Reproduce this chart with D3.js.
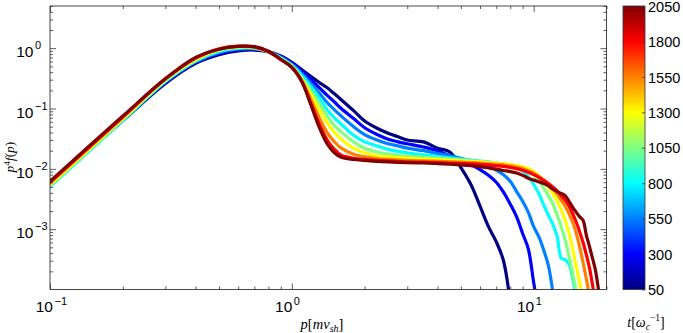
<!DOCTYPE html>
<html><head><meta charset="utf-8">
<script src="https://cdn.jsdelivr.net/npm/d3@7"></script>
<style>
body{margin:0;background:#fff}
svg{display:block}
.num{font-family:"Liberation Sans",Arial,Helvetica,sans-serif;fill:#000}
.tex{font-family:"Liberation Serif","DejaVu Serif",serif;fill:#000}
</style>
</head><body>
<svg id="c" width="683" height="333"></svg>
<script>
// ---------------- data ----------------
const times = [50, 300, 550, 800, 1050, 1300, 1550, 1800, 2050];
const pGrid = [0.1,0.2,0.3,0.4,0.5,0.6,0.7,0.8,0.9,1.0,
  1.1,1.2,1.3,1.4,1.5,1.6,1.8,2.0,2.25,2.5,
  2.75,3.0,3.5,4.0,4.5,5.0,5.5,6.0,6.5,7.0,
  7.5,8.0,8.5,9.0,9.5,10,10.5,11,11.5,12,
  12.5,13,13.5,14,14.5,15,15.5,16,16.5,17,
  17.5,18,18.5,19];
const f_t50 = [5.4e-3,0.063,0.26,0.56,0.78,0.90,0.93,0.87,0.74,0.58,
  0.44,0.34,0.27,0.22,0.175,0.14,0.092,0.062,0.047,0.039,
  0.034,0.030,0.028,0.022,0.019,0.0105,0.0055,0.0024,0.0011,6.2e-4,
  3.0e-4,6e-5,null,null,null,null,null,null,null,null,
  null,null,null,null,null,null,null,null,null,null,
  null,null,null,null];
const f_t300 = [5.5e-3,0.066,0.27,0.58,0.82,0.94,0.96,0.88,0.73,0.56,
  0.41,0.30,0.22,0.165,0.128,0.10,0.068,0.048,0.037,0.031,
  0.028,0.026,0.023,0.020,0.0165,0.0140,0.0118,0.0097,0.0078,0.0060,
  0.0041,0.0026,0.0016,8.5e-4,4.7e-4,1.3e-4,4e-5,null,null,null,
  null,null,null,null,null,null,null,null,null,null,
  null,null,null,null];
const f_t550 = [5.4e-3,0.066,0.28,0.60,0.85,0.97,0.98,0.88,0.71,0.54,
  0.38,0.26,0.18,0.125,0.095,0.075,0.050,0.037,0.030,0.026,
  0.024,0.022,0.020,0.018,0.0165,0.0150,0.0135,0.0122,0.0110,0.0095,
  0.0080,0.0062,0.0042,0.0029,0.0019,0.0011,7.5e-4,4.5e-4,2.5e-4,9e-5,
  null,null,null,null,null,null,null,null,null,null,
  null,null,null,null];
const f_t800 = [5.1e-3,0.063,0.28,0.61,0.88,1.0,1.0,0.88,0.69,0.52,
  0.35,0.23,0.15,0.095,0.070,0.055,0.036,0.028,0.024,0.021,
  0.0195,0.0185,0.0170,0.0160,0.0152,0.0145,0.0140,0.0135,0.0130,0.0125,
  0.0120,0.0115,0.0106,0.0092,0.0074,0.0055,0.0039,0.0025,0.0017,0.0012,
  7.6e-4,3.3e-4,3.1e-4,2.6e-4,1.5e-4,7e-5,null,null,null,null,
  null,null,null,null];
const f_t1050 = [5.3e-3,0.066,0.29,0.63,0.92,1.03,1.02,0.87,0.67,0.50,
  0.32,0.20,0.12,0.075,0.052,0.041,0.028,0.022,0.019,0.0175,
  0.0168,0.0162,0.0155,0.0150,0.0145,0.0140,0.0136,0.0132,0.0128,0.0124,
  0.0120,0.0116,0.0112,0.0105,0.0094,0.0080,0.0063,0.0048,0.0036,0.0026,
  0.0017,0.0011,6.5e-4,3.5e-4,1.8e-4,9e-5,null,null,null,null,
  null,null,null,null];
const f_t1300 = [5.5e-3,0.068,0.30,0.65,0.95,1.05,1.03,0.87,0.66,0.49,
  0.30,0.17,0.095,0.058,0.040,0.031,0.022,0.0185,0.0165,0.0158,
  0.0153,0.0150,0.0146,0.0142,0.0139,0.0136,0.0133,0.0130,0.0127,0.0124,
  0.0121,0.0117,0.0113,0.0108,0.0100,0.0090,0.0076,0.0062,0.0050,0.0039,
  0.0029,0.0021,0.0014,8.5e-4,4.6e-4,2.4e-4,1.3e-4,6e-5,null,null,
  null,null,null,null];
const f_t1550 = [5.8e-3,0.071,0.31,0.68,0.98,1.07,1.04,0.87,0.65,0.48,
  0.29,0.14,0.070,0.040,0.028,0.022,0.0175,0.0158,0.0148,0.0143,
  0.0140,0.0138,0.0135,0.0133,0.0131,0.0129,0.0127,0.0125,0.0122,0.0119,
  0.0116,0.0112,0.0107,0.0101,0.0093,0.0085,0.0075,0.0066,0.0057,0.0047,
  0.0038,0.0030,0.0024,0.0018,0.0013,8.5e-4,5e-4,2.8e-4,1.5e-4,8e-5,
  null,null,null,null];
const f_t1800 = [6.0e-3,0.073,0.31,0.69,0.97,1.08,1.05,0.88,0.65,0.48,
  0.28,0.12,0.055,0.030,0.021,0.0168,0.0150,0.0143,0.0138,0.0135,
  0.0133,0.0131,0.0129,0.0127,0.0125,0.0123,0.0121,0.0119,0.0116,0.0113,
  0.0110,0.0106,0.0101,0.0095,0.0088,0.0080,0.0072,0.0064,0.0057,0.0050,
  0.0043,0.0036,0.0030,0.0024,0.0018,0.0013,9e-4,6e-4,3.8e-4,2.3e-4,
  1.2e-4,6e-5,null,null];
const f_t2050 = [6.2e-3,0.075,0.31,0.70,0.96,1.07,1.06,0.89,0.65,0.48,
  0.277,0.113,0.048,0.026,0.0185,0.0155,0.0143,0.0138,0.0133,0.0130,
  0.0128,0.0127,0.0125,0.0122,0.0119,0.0116,0.0113,0.0109,0.0104,0.0099,
  0.0094,0.0090,0.0085,0.0078,0.0070,0.0065,0.0061,0.0057,0.0052,0.0046,
  0.0042,0.0039,0.0036,0.0029,0.0023,0.0019,0.0016,0.0014,8e-4,5.2e-4,
  3.3e-4,2.1e-4,1.05e-4,5e-5];
const seriesValues = [f_t50,f_t300,f_t550,f_t800,f_t1050,f_t1300,f_t1550,f_t1800,f_t2050];
const xMajor = [0.1, 1, 10];
const xMajorExp = ["\u22121", "0", "1"];
const yMajor = [1e-3, 1e-2, 1e-1, 1];
const yMajorExp = ["\u22123", "\u22122", "\u22121", "0"];
const cbTicks = [50, 300, 550, 800, 1050, 1300, 1550, 1800, 2050];

// ---------------- layout ----------------
const svg = d3.select("#c");
const L = 50, R = 606.5, T = 6, B = 289.5;
const x = d3.scaleLog().domain([0.1, 20]).range([L, R]);
const y = d3.scaleLog().domain([1e-4, 5]).range([B, T]);

function jet(v){
  const c = a => Math.max(0, Math.min(1, a));
  return d3.rgb(255*c(1.5-Math.abs(4*v-3)), 255*c(1.5-Math.abs(4*v-2)), 255*c(1.5-Math.abs(4*v-1))).toString();
}
const color = d3.scaleSequential(jet).domain([50, 2050]);

// clip
const defs = svg.append("defs");
defs.append("clipPath").attr("id","plotclip")
  .append("rect").attr("x",L).attr("y",T).attr("width",R-L).attr("height",B-T);

// lines
const line = d3.line()
  .defined(d => d[1] != null)
  .x(d => x(d[0])).y(d => y(d[1]))
  .curve(d3.curveCatmullRom.alpha(0.5));
const gLines = svg.append("g").attr("clip-path","url(#plotclip)");
times.forEach((t,i) => {
  const pts = pGrid.map((p,j) => [p, seriesValues[i][j]]);
  gLines.append("path").attr("d", line(pts))
    .attr("fill","none").attr("stroke", color(t))
    .attr("stroke-width", 3.2).attr("stroke-linejoin","round").attr("stroke-linecap","round");
});

// axes (ticks inside, box)
const axisColor = "#333";
const xMinor = x.ticks().filter(v => !xMajor.some(m => Math.abs(m-v)/m < 1e-6));
const yMinor = y.ticks().filter(v => !yMajor.some(m => Math.abs(m-v)/m < 1e-6) && Math.abs(v-1e-4)>1e-9);
function styleAxis(g){ g.select(".domain").remove(); g.selectAll("line").attr("stroke",axisColor).attr("stroke-width",0.8); g.selectAll("text").remove(); }
svg.append("g").attr("transform",`translate(0,${B})`).call(d3.axisBottom(x).tickValues(xMajor).tickSize(-6)).call(styleAxis);
svg.append("g").attr("transform",`translate(0,${B})`).call(d3.axisBottom(x).tickValues(xMinor).tickSize(-3)).call(styleAxis);
svg.append("g").attr("transform",`translate(0,${T})`).call(d3.axisTop(x).tickValues(xMajor).tickSize(-6)).call(styleAxis);
svg.append("g").attr("transform",`translate(0,${T})`).call(d3.axisTop(x).tickValues(xMinor).tickSize(-3)).call(styleAxis);
svg.append("g").attr("transform",`translate(${L},0)`).call(d3.axisLeft(y).tickValues(yMajor).tickSize(-6)).call(styleAxis);
svg.append("g").attr("transform",`translate(${L},0)`).call(d3.axisLeft(y).tickValues(yMinor).tickSize(-3)).call(styleAxis);
svg.append("g").attr("transform",`translate(${R},0)`).call(d3.axisRight(y).tickValues(yMajor).tickSize(-6)).call(styleAxis);
svg.append("g").attr("transform",`translate(${R},0)`).call(d3.axisRight(y).tickValues(yMinor).tickSize(-3)).call(styleAxis);
svg.append("rect").attr("x",L).attr("y",T).attr("width",R-L).attr("height",B-T)
  .attr("fill","none").attr("stroke",axisColor).attr("stroke-width",0.9);

// tick labels with superscripts
xMajor.forEach((v,i) => {
  const neg = xMajorExp[i].startsWith("\u2212");
  const xe = x(v) + (neg ? 3 : 0.5);
  svg.append("text").attr("class","num").attr("x",xe).attr("y",312).attr("text-anchor","end")
    .attr("font-size",15.5).text("10");
  svg.append("text").attr("class","num").attr("x",xe+1.5).attr("y",305).attr("font-size",11).text(xMajorExp[i]);
});
yMajor.forEach((v,i) => {
  const yy = y(v);
  svg.append("text").attr("class","num").attr("x",33.5).attr("y",yy+9).attr("text-anchor","end")
    .attr("font-size",15.5).text("10");
  svg.append("text").attr("class","num").attr("x",35).attr("y",yy+1).attr("font-size",11).text(yMajorExp[i]);
});

// axis labels
const yl = svg.append("text").attr("class","tex").attr("font-size",13.5)
  .attr("transform","translate(13.5,157) rotate(-90)").attr("text-anchor","middle");
yl.append("tspan").attr("font-style","italic").text("p");
yl.append("tspan").attr("font-size",9).attr("dy",-4).text("4");
yl.append("tspan").attr("font-style","italic").attr("dy",4).text("f");
yl.append("tspan").text("(");
yl.append("tspan").attr("font-style","italic").text("p");
yl.append("tspan").text(")");

const xl = svg.append("text").attr("class","tex").attr("font-size",14.5)
  .attr("x",322).attr("y",329).attr("text-anchor","middle");
xl.append("tspan").attr("font-style","italic").text("p");
xl.append("tspan").text("[");
xl.append("tspan").attr("font-style","italic").text("mv");
xl.append("tspan").attr("font-style","italic").attr("font-size",10).attr("dy",3).text("sh");
xl.append("tspan").attr("dy",-3).text("]");

// colorbar
const cbL = 623, cbR = 645;
const cy = d3.scaleLinear().domain([50, 2050]).range([B, T]);
const grad = defs.append("linearGradient").attr("id","jetgrad")
  .attr("x1",0).attr("y1",1).attr("x2",0).attr("y2",0);
d3.range(0, 1.00001, 0.0625).forEach(o => {
  grad.append("stop").attr("offset",o).attr("stop-color", color(50 + o*2000));
});
svg.append("rect").attr("x",cbL).attr("y",T).attr("width",cbR-cbL).attr("height",B-T)
  .attr("fill","url(#jetgrad)").attr("stroke",axisColor).attr("stroke-width",0.8);
const cbAxis = svg.append("g").attr("transform",`translate(${cbR},0)`)
  .call(d3.axisRight(cy).tickValues(cbTicks).tickFormat(d3.format("d")).tickSize(-3).tickPadding(6));
cbAxis.select(".domain").remove();
cbAxis.selectAll("line").attr("stroke",axisColor).attr("stroke-width",0.8);
cbAxis.selectAll("text").attr("class","num").attr("font-size",14.5).attr("fill","#000")
  .attr("x",3).attr("dy","0.36em");

const cl = svg.append("text").attr("class","tex").attr("font-size",14)
  .attr("x",646).attr("y",327).attr("text-anchor","middle");
cl.append("tspan").attr("font-style","italic").text("t");
cl.append("tspan").text("[");
cl.append("tspan").attr("font-style","italic").text("\u03C9");
cl.append("tspan").attr("font-style","italic").attr("font-size",9.5).attr("dy",3).text("c");
cl.append("tspan").attr("font-size",9.5).attr("dy",-9).text("\u22121");
cl.append("tspan").attr("dy",6).text("]");
</script>
</body></html>
